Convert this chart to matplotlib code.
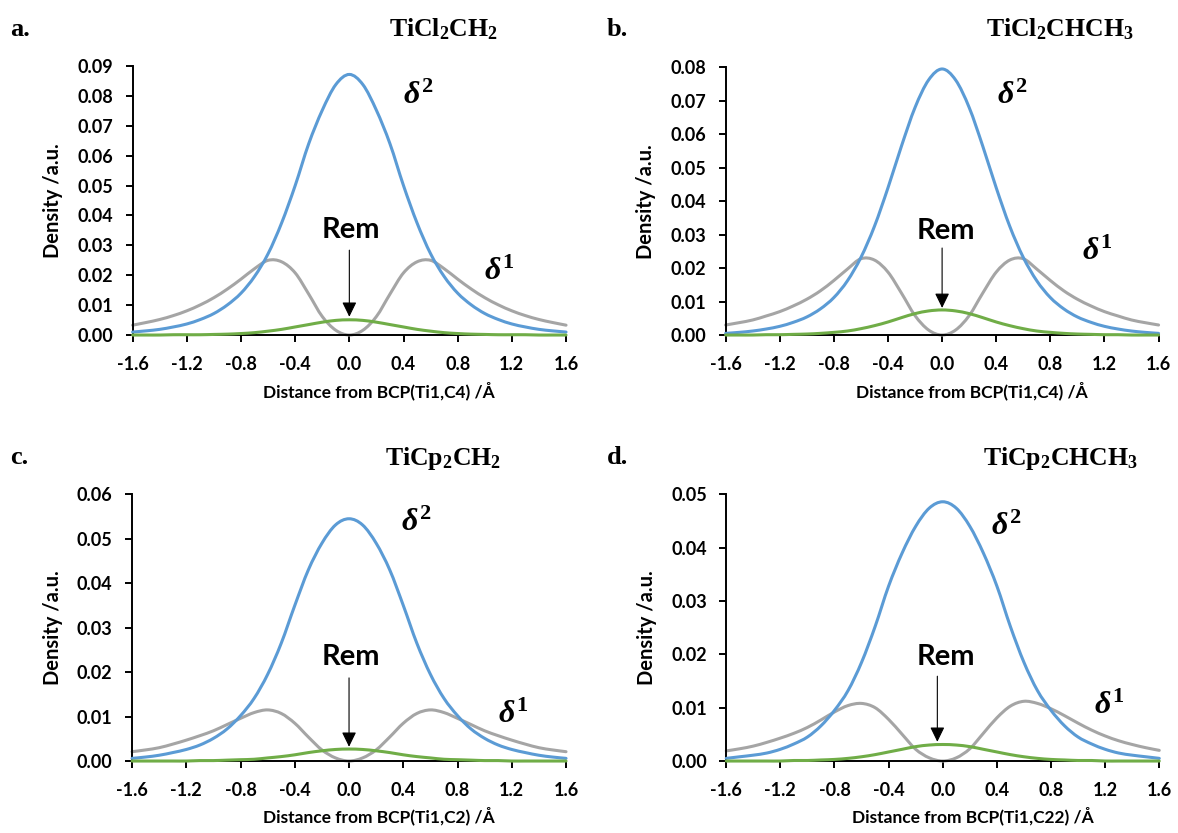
import matplotlib
matplotlib.use('Agg')
import matplotlib.pyplot as plt
from matplotlib.path import Path
from matplotlib.patches import PathPatch

plt.rcParams['font.family'] = ['Lato', 'DejaVu Sans']
plt.rcParams['font.weight'] = 'bold'
plt.rcParams['mathtext.fontset'] = 'custom'
plt.rcParams['mathtext.rm'] = 'Liberation Serif:bold'
plt.rcParams['mathtext.bf'] = 'Liberation Serif:bold'
plt.rcParams['mathtext.it'] = 'Liberation Serif:italic:bold'

# distancia ao BCP (Å)
distancia = [-1.6, -1.5, -1.4, -1.3, -1.2, -1.1, -1.0, -0.9, -0.8, -0.7, -0.6,
             -0.5, -0.4, -0.3, -0.2, -0.1, 0.0, 0.1, 0.2, 0.3, 0.4, 0.5,
             0.6, 0.7, 0.8, 0.9, 1.0, 1.1, 1.2, 1.3, 1.4, 1.5, 1.6]

# a. TiCl2CH2
d2_a = [0.0010, 0.0014, 0.0019, 0.0027, 0.0037, 0.0052, 0.0072, 0.0101, 0.0140, 0.0196, 0.0272,
        0.0375, 0.0500, 0.0640, 0.0752, 0.0838, 0.0872, 0.0838, 0.0752, 0.0640, 0.0500, 0.0375,
        0.0272, 0.0196, 0.0140, 0.0101, 0.0072, 0.0052, 0.0037, 0.0027, 0.0019, 0.0014, 0.0010]
d1_a = [0.0033, 0.0042, 0.0052, 0.0065, 0.0081, 0.0101, 0.0125, 0.0154, 0.0187, 0.0222, 0.0250,
        0.0245, 0.0208, 0.0137, 0.0062, 0.0016, 0.0000, 0.0016, 0.0062, 0.0137, 0.0208, 0.0245,
        0.0250, 0.0222, 0.0187, 0.0154, 0.0125, 0.0101, 0.0081, 0.0065, 0.0052, 0.0042, 0.0033]
rem_a = [0.0000, 0.0000, 0.0000, 0.0001, 0.0001, 0.0001, 0.0002, 0.0003, 0.0005, 0.0008, 0.0013,
         0.0019, 0.0027, 0.0035, 0.0043, 0.0049, 0.0051, 0.0049, 0.0043, 0.0035, 0.0027, 0.0019,
         0.0013, 0.0008, 0.0005, 0.0003, 0.0002, 0.0001, 0.0001, 0.0001, 0.0000, 0.0000, 0.0000]

# b. TiCl2CHCH3
d2_b = [0.0005, 0.0008, 0.0012, 0.0018, 0.0026, 0.0038, 0.0054, 0.0078, 0.0112, 0.0162, 0.0232,
        0.0325, 0.0440, 0.0565, 0.0680, 0.0762, 0.0795, 0.0762, 0.0680, 0.0565, 0.0440, 0.0325,
        0.0232, 0.0162, 0.0112, 0.0078, 0.0054, 0.0038, 0.0026, 0.0018, 0.0012, 0.0008, 0.0005]
d1_b = [0.0030, 0.0037, 0.0045, 0.0057, 0.0070, 0.0087, 0.0107, 0.0132, 0.0163, 0.0197, 0.0228,
        0.0224, 0.0188, 0.0125, 0.0058, 0.0015, 0.0000, 0.0015, 0.0058, 0.0125, 0.0188, 0.0224,
        0.0228, 0.0197, 0.0163, 0.0132, 0.0107, 0.0087, 0.0070, 0.0057, 0.0045, 0.0037, 0.0030]
rem_b = [0.0000, 0.0000, 0.0000, 0.0001, 0.0001, 0.0002, 0.0003, 0.0005, 0.0008, 0.0012, 0.0019,
         0.0028, 0.0039, 0.0052, 0.0064, 0.0072, 0.0075, 0.0072, 0.0064, 0.0052, 0.0039, 0.0028,
         0.0019, 0.0012, 0.0008, 0.0005, 0.0003, 0.0002, 0.0001, 0.0001, 0.0000, 0.0000, 0.0000]

# c. TiCp2CH2
d2_c = [0.0006, 0.0009, 0.0013, 0.0019, 0.0026, 0.0036, 0.0051, 0.0072, 0.0102, 0.0141, 0.0195,
        0.0265, 0.0350, 0.0430, 0.0490, 0.0531, 0.0545, 0.0531, 0.0490, 0.0430, 0.0350, 0.0265,
        0.0195, 0.0141, 0.0102, 0.0072, 0.0051, 0.0036, 0.0026, 0.0019, 0.0013, 0.0009, 0.0006]
d1_c = [0.0021, 0.0025, 0.0030, 0.0038, 0.0047, 0.0057, 0.0068, 0.0082, 0.0096, 0.0109, 0.0115,
        0.0107, 0.0085, 0.0054, 0.0025, 0.0007, 0.0000, 0.0007, 0.0025, 0.0054, 0.0085, 0.0107,
        0.0115, 0.0109, 0.0096, 0.0082, 0.0068, 0.0057, 0.0047, 0.0038, 0.0030, 0.0025, 0.0021]
rem_c = [0.0000, 0.0000, 0.0000, 0.0000, 0.0000, 0.0001, 0.0001, 0.0002, 0.0003, 0.0004, 0.0007,
         0.0010, 0.0014, 0.0019, 0.0023, 0.0026, 0.0027, 0.0026, 0.0023, 0.0019, 0.0014, 0.0010,
         0.0007, 0.0004, 0.0003, 0.0002, 0.0001, 0.0001, 0.0000, 0.0000, 0.0000, 0.0000, 0.0000]

# d. TiCp2CHCH3
d2_d = [0.0005, 0.0008, 0.0011, 0.0015, 0.0022, 0.0032, 0.0045, 0.0066, 0.0095, 0.0132, 0.0185,
        0.0252, 0.0328, 0.0390, 0.0440, 0.0474, 0.0486, 0.0474, 0.0440, 0.0390, 0.0328, 0.0252,
        0.0185, 0.0132, 0.0095, 0.0066, 0.0045, 0.0032, 0.0022, 0.0015, 0.0011, 0.0008, 0.0005]
d1_d = [0.0019, 0.0023, 0.0028, 0.0035, 0.0043, 0.0052, 0.0063, 0.0077, 0.0092, 0.0104, 0.0108,
        0.0100, 0.0078, 0.0050, 0.0022, 0.0006, 0.0000, 0.0006, 0.0023, 0.0052, 0.0081, 0.0103,
        0.0112, 0.0108, 0.0098, 0.0085, 0.0071, 0.0058, 0.0047, 0.0038, 0.0031, 0.0025, 0.0020]
rem_d = [0.0000, 0.0000, 0.0000, 0.0000, 0.0000, 0.0001, 0.0001, 0.0002, 0.0003, 0.0005, 0.0008,
         0.0012, 0.0017, 0.0022, 0.0027, 0.0030, 0.0031, 0.0030, 0.0027, 0.0022, 0.0017, 0.0012,
         0.0008, 0.0005, 0.0003, 0.0002, 0.0001, 0.0001, 0.0000, 0.0000, 0.0000, 0.0000, 0.0000]

x_ticks = [-1.6, -1.2, -0.8, -0.4, 0.0, 0.4, 0.8, 1.2, 1.6]

paineis = [
    # letra, titulo, bcp, dados, ymax, pos. eixo, delta2, delta1, Rem, seta (x, topo, ponta)
    ('a.', r'$\mathrm{TiCl_2CH_2}$', 'Ti1,C4', (d2_a, d1_a, rem_a), 0.09,
     [0.1126, 0.5978, 0.3679, 0.3229], (0.51, 0.0806), (1.11, 0.0217), (0.015, 0.0351), (0.0, 0.0284, 0.0061)),
    ('b.', r'$\mathrm{TiCl_2CHCH_3}$', 'Ti1,C4', (d2_b, d1_b, rem_b), 0.08,
     [0.6160, 0.5978, 0.3675, 0.3214], (0.52, 0.0720), (1.15, 0.0254), (0.03, 0.0311), (0.0, 0.0260, 0.0081)),
    ('c.', r'$\mathrm{TiCp_2CH_2}$', 'Ti1,C2', (d2_c, d1_c, rem_c), 0.06,
     [0.1121, 0.0864, 0.3684, 0.3202], (0.50, 0.0540), (1.21, 0.0108), (0.015, 0.0234), (0.0, 0.0187, 0.0032)),
    ('d.', r'$\mathrm{TiCp_2CHCH_3}$', 'Ti1,C22', (d2_d, d1_d, rem_d), 0.05,
     [0.6165, 0.0864, 0.3676, 0.3202], (0.47, 0.0442), (1.23, 0.0107), (0.024, 0.0195), (-0.04, 0.0159, 0.0036)),
]

cor_d2 = '#5B9BD5'
cor_d1 = '#A5A5A5'
cor_rem = '#70AD47'


def linha_suave(ax, xs, ys, cor, z):
    # linha suavizada (Bezier cubica pelos pontos, como a "linha suave" do Excel)
    n = len(xs)
    pts = list(zip(xs, ys))
    verts = [pts[0]]
    codes = [Path.MOVETO]
    for i in range(n - 1):
        p0 = pts[max(i - 1, 0)]
        p1 = pts[i]
        p2 = pts[i + 1]
        p3 = pts[min(i + 2, n - 1)]
        c1 = (p1[0] + (p2[0] - p0[0]) / 6, p1[1] + (p2[1] - p0[1]) / 6)
        c2 = (p2[0] - (p3[0] - p1[0]) / 6, p2[1] - (p3[1] - p1[1]) / 6)
        verts += [c1, c2, p2]
        codes += [Path.CURVE4] * 3
    patch = PathPatch(Path(verts, codes), fill=False, edgecolor=cor, lw=2.2,
                      transform=ax.transData, zorder=z, clip_on=False, capstyle='round')
    ax.add_patch(patch)


fig = plt.figure(figsize=(11.78, 8.33), dpi=100)

for letra, titulo, bcp, dados, ymax, pos, pd2, pd1, prem, seta in paineis:
    ax = fig.add_axes(pos)
    d2, d1, rem = dados
    linha_suave(ax, distancia, d1, cor_d1, 2)
    linha_suave(ax, distancia, d2, cor_d2, 3)
    linha_suave(ax, distancia, rem, cor_rem, 4)

    ax.set_xlim(-1.6, 1.6)
    ax.set_ylim(0, ymax)
    ax.set_xticks(x_ticks)
    ax.set_xticklabels(['%.1f' % v for v in x_ticks])
    yt = [i * 0.01 for i in range(int(round(ymax / 0.01)) + 1)]
    ax.set_yticks(yt)
    ax.set_yticklabels(['%.2f' % v for v in yt])
    for s in ['top', 'right']:
        ax.spines[s].set_visible(False)
    for s in ['left', 'bottom']:
        ax.spines[s].set_linewidth(1.4)
        ax.spines[s].set_color('black')
    ax.tick_params(axis='both', direction='out', length=5, width=1.4, labelsize=13)
    ax.tick_params(axis='y', pad=9)
    ax.tick_params(axis='x', pad=10)

    ax.set_xlabel('Distance from BCP(%s) /Å' % bcp, fontsize=12.5, fontweight='bold')
    ax.set_ylabel('Density /a.u.', fontsize=14.5, fontweight='bold')
    ax.xaxis.set_label_coords(0.569, -0.172)
    ax.yaxis.set_label_coords(-0.16, 0.5)

    ax.text(pd2[0], pd2[1], r'$\delta^2$', fontsize=23, ha='center', va='center')
    ax.text(pd1[0], pd1[1], r'$\delta^1$', fontsize=23, ha='center', va='center')
    ax.text(prem[0], prem[1], 'Rem', fontsize=21, fontweight='bold', ha='center', va='center')
    ax.annotate('', xy=(seta[0], seta[2]), xytext=(seta[0], seta[1]),
                arrowprops=dict(arrowstyle='-|>,head_length=0.45,head_width=0.22',
                                color='black', lw=0.8, mutation_scale=20, shrinkA=0, shrinkB=0))

    # letra do painel e composto
    bb = ax.get_position()
    fx = 10 / 1178 if bb.x0 < 0.5 else 607 / 1178
    fy = 1 - 29 / 833 if bb.y0 > 0.5 else 1 - 458 / 833
    fig.text(fx, fy, letra, family='Liberation Serif', fontweight='bold', fontsize=19,
             ha='left', va='center')
    tx = 443 / 1178 if bb.x0 < 0.5 else 1060 / 1178
    fig.text(tx, fy, titulo, fontsize=18.5, ha='center', va='center')

fig.savefig('out.png', dpi=100)
